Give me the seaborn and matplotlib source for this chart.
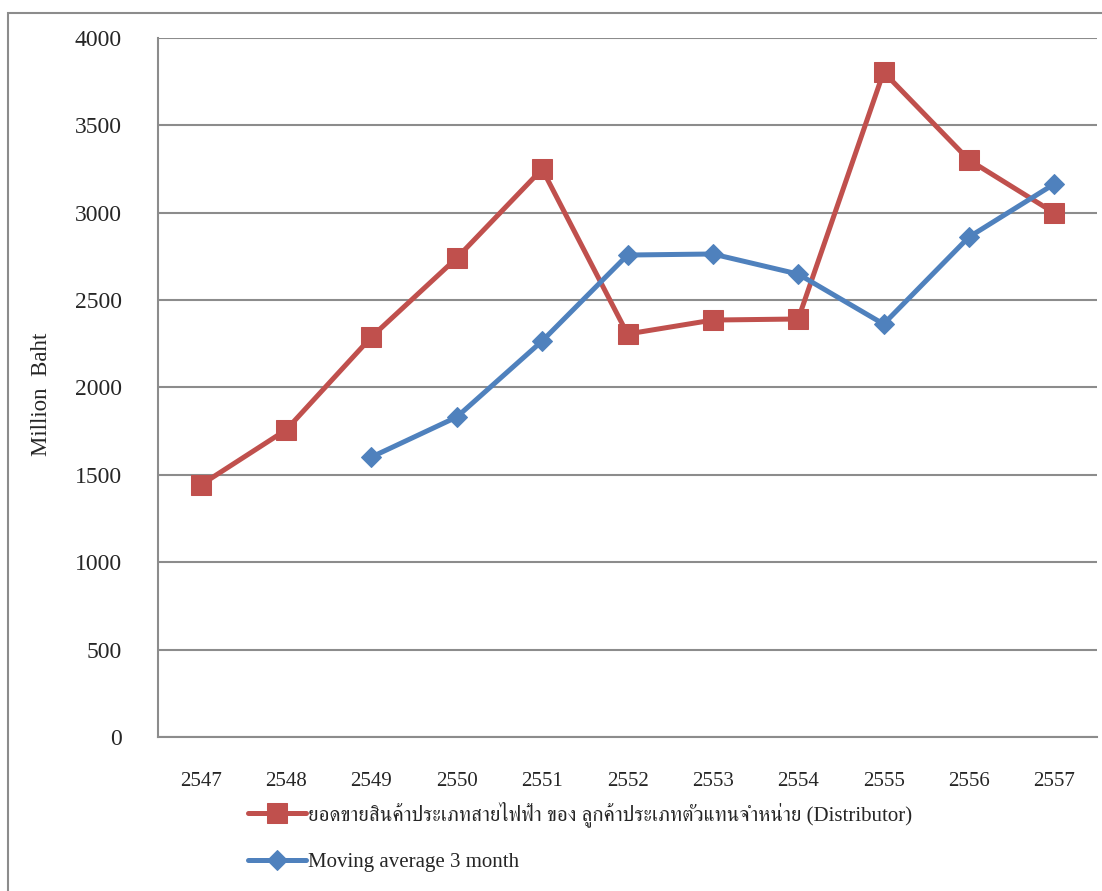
import numpy as np
import pandas as pd
import matplotlib
matplotlib.use("Agg")
import matplotlib.pyplot as plt
from matplotlib import font_manager
from matplotlib.ft2font import FT2Font
from matplotlib.patches import Rectangle
import seaborn as sns

years = ["2547", "2548", "2549", "2550", "2551", "2552",
         "2553", "2554", "2555", "2556", "2557"]
sales = [1442, 1757, 2289, 2741, 3250, 2306, 2386, 2392, 3805, 3302, 2999]
moving_avg = [np.nan, np.nan, 1602, 1831, 2266, 2758, 2764, 2649, 2363, 2861, 3165]
sales_label = "ยอดขายสินค้าประเภทสายไฟฟ้า ของ ลูกค้าประเภทตัวแทนจำหน่าย (Distributor)"
avg_label = "Moving average 3 month"
y_ticks = [0, 500, 1000, 1500, 2000, 2500, 3000, 3500, 4000]


def thai_family():
    # pick an installed font that carries Thai glyphs, serif first
    found = []
    for f in font_manager.fontManager.ttflist:
        try:
            cmap = FT2Font(f.fname).get_charmap()
        except Exception:
            continue
        if 0x0E22 in cmap and 0x0E2A in cmap:
            found.append(f.name)
    if not found:
        return None
    serif = [n for n in found if "Serif" in n]
    return (serif or found)[0]


sns.set_theme(style="white")
thai = thai_family()
families = ["Liberation Serif"] + ([thai] if thai else []) + ["DejaVu Sans"]
plt.rcParams["font.family"] = families

red = "#C0504D"
blue = "#4F81BD"
grid_c = "#8C8C8C"

df = pd.DataFrame({"year": years, "sales": sales, "avg": moving_avg})
df["pos"] = np.arange(len(years))

fig = plt.figure(figsize=(11.02, 8.91), dpi=100)
ax = fig.add_axes([158 / 1102, 1 - 737 / 891, (1097 - 158) / 1102, (737 - 38) / 891])

sns.lineplot(data=df, x="pos", y="sales", ax=ax, color=red, lw=3.6,
             marker="s", markersize=14, markeredgecolor=red, label=sales_label)
sns.lineplot(data=df.dropna(), x="pos", y="avg", ax=ax, color=blue, lw=3.6,
             marker="D", markersize=10.5, markeredgecolor=blue, label=avg_label)

ax.set_xlim(-0.5, len(years) - 0.5)
ax.set_ylim(0, 4000)
ax.set_yticks(y_ticks)
ax.set_yticklabels([str(v) for v in y_ticks], fontsize=17)
ax.set_xticks(df["pos"])
ax.set_xticklabels(years, fontsize=15)
ax.tick_params(axis="y", length=0, pad=26)
ax.tick_params(axis="x", length=0, pad=25)
ax.set_xlabel("")
ax.set_ylabel("Million  Baht", fontsize=16.5)
ax.yaxis.set_label_coords(-0.113, 0.49)
ax.grid(axis="y", color=grid_c, lw=1.5)
ax.set_axisbelow(True)
for side in ["top", "right"]:
    ax.spines[side].set_visible(False)
for side in ["left", "bottom"]:
    ax.spines[side].set_color(grid_c)
    ax.spines[side].set_linewidth(1.5)

handles, labels = ax.get_legend_handles_labels()
ax.legend_.remove()
fig.legend(handles, labels, loc="upper left",
           bbox_to_anchor=(229 / 1102, 1 - 783 / 891),
           frameon=False, fontsize=15, handlelength=2.8, handletextpad=0.1,
           labelspacing=1.2)

fig.patches.append(Rectangle((8 / 1102, -0.05), 1.2, 1 - 13 / 891 + 0.05,
                             transform=fig.transFigure, fill=False,
                             edgecolor=grid_c, lw=1.5))

fig.savefig("out.png", dpi=100)
